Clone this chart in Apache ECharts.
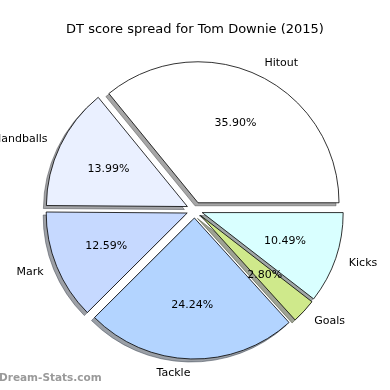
<!DOCTYPE html>
<html>
<head>
<meta charset="utf-8">
<script src="https://cdn.jsdelivr.net/npm/echarts@6/dist/echarts.min.js"></script>
<style>
html,body{margin:0;padding:0;background:#fff;}
#chart{width:390px;height:390px;}
</style>
</head>
<body>
<div id="chart"></div>
<script>
var categories = ['Hitout', 'Handballs', 'Mark', 'Tackle', 'Goals', 'Kicks'];
var values = [35.90, 13.99, 12.59, 24.24, 2.80, 10.49];
var titleText = 'DT score spread for Tom Downie (2015)';
var watermark = 'Dream-Stats.com';

var colors = ['#ffffff', '#eaf0ff', '#c6d9ff', '#b3d4ff', '#cfe98b', '#d9ffff'];

var CX = 194.6, CY = 210, R = 141, OFF = 8, FONT = 'DejaVu Sans';

function shadeColor(hex) {
  var r = parseInt(hex.substr(1, 2), 16), g = parseInt(hex.substr(3, 2), 16), b = parseInt(hex.substr(5, 2), 16);
  return 'rgba(' + Math.round(r * 0.3) + ',' + Math.round(g * 0.3) + ',' + Math.round(b * 0.3) + ',0.5)';
}

function mkData(styleFn) {
  return categories.map(function (c, i) {
    return { name: c, value: values[i], selected: true, itemStyle: styleFn(i) };
  });
}

var common = {
  type: 'pie',
  startAngle: 0,
  clockwise: false,
  selectedMode: 'multiple',
  selectedOffset: OFF,
  avoidLabelOverlap: false,
  animation: false,
  silent: true,
  minAngle: 0
};

var shadowSeries = Object.assign({}, common, {
  z: 1,
  center: [CX - 3, CY + 3],
  radius: [0, R],
  label: { show: false },
  labelLine: { show: false },
  data: mkData(function (i) { return { color: shadeColor(colors[i]), borderColor: shadeColor(colors[i]), borderWidth: 1 }; }),
  select: { itemStyle: {} }
});

var mainSeries = Object.assign({}, common, {
  z: 2,
  center: [CX, CY],
  radius: [0, R],
  label: {
    show: true,
    position: 'outside',
    formatter: '{b}',
    fontFamily: FONT,
    fontSize: 11,
    color: '#000',
    distanceToLabelLine: 0
  },
  labelLine: { show: false, length: 14, length2: 0 },
  data: mkData(function (i) { return { color: colors[i], borderColor: '#000', borderWidth: 0.8 }; }),
  select: { itemStyle: { borderColor: '#000', borderWidth: 0.8 } }
});

var pctSeries = Object.assign({}, common, {
  z: 3,
  center: [CX, CY],
  radius: [R * 0.2, R],
  label: {
    show: true,
    position: 'inside',
    formatter: function (p) { return p.value.toFixed(2) + '%'; },
    fontFamily: FONT,
    fontSize: 11,
    color: '#000'
  },
  labelLine: { show: false },
  data: mkData(function (i) { return { color: 'rgba(0,0,0,0)', borderWidth: 0 }; }),
  select: { itemStyle: { color: 'rgba(0,0,0,0)', borderWidth: 0 } }
});

var chart = echarts.init(document.getElementById('chart'), null, { renderer: 'canvas' });
chart.setOption({
  backgroundColor: '#fff',
  animation: false,
  title: {
    text: titleText,
    left: 'center',
    top: 18,
    textStyle: { fontFamily: FONT, fontSize: 13, fontWeight: 'normal', color: '#000' }
  },
  graphic: [{
    type: 'text',
    left: -1,
    top: 373,
    style: { text: watermark, fontFamily: FONT, fontSize: 10.5, fontWeight: 'bold', fill: '#9a9a9a' }
  }],
  series: [shadowSeries, mainSeries, pctSeries]
});
</script>
</body>
</html>
